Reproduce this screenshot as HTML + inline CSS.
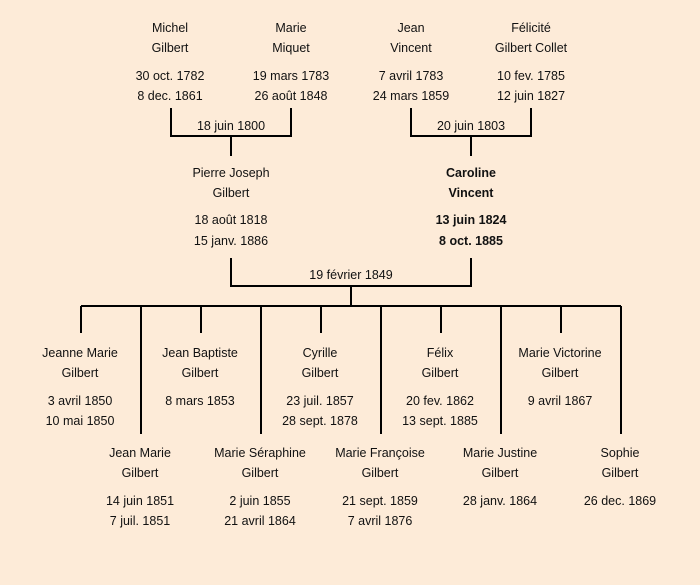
<!DOCTYPE html>
<html><head><meta charset="utf-8"><style>
html,body{margin:0;padding:0;background:#fdebd8;}
svg{display:block}
text{font-family:"Liberation Sans",sans-serif;font-size:12.5px;fill:#111;text-anchor:middle}
.b{font-weight:bold}
</style></head><body>
<svg width="700" height="585" viewBox="0 0 700 585">
<rect width="700" height="585" fill="#fdebd8"/>
<g stroke="#000" stroke-width="2" fill="none">
<path d="M171 108V136H291V108M231 136V156"/>
<path d="M411 108V136H531V108M471 136V156"/>
<path d="M231 258V286H471V258M351 286V306"/>
<path d="M81 306H621"/>
<path d="M81 306V333M201 306V333M321 306V333M441 306V333M561 306V333"/>
<path d="M141 306V434M261 306V434M381 306V434M501 306V434M621 306V434"/>
</g>
<g>
<text x="170" y="32">Michel</text><text x="170" y="52">Gilbert</text><text x="170" y="80">30 oct. 1782</text><text x="170" y="100">8 dec. 1861</text>
<text x="291" y="32">Marie</text><text x="291" y="52">Miquet</text><text x="291" y="80">19 mars 1783</text><text x="291" y="100">26 août 1848</text>
<text x="411" y="32">Jean</text><text x="411" y="52">Vincent</text><text x="411" y="80">7 avril 1783</text><text x="411" y="100">24 mars 1859</text>
<text x="531" y="32">Félicité</text><text x="531" y="52">Gilbert Collet</text><text x="531" y="80">10 fev. 1785</text><text x="531" y="100">12 juin 1827</text>
<text x="231" y="130">18 juin 1800</text><text x="471" y="130">20 juin 1803</text>
<text x="231" y="177">Pierre Joseph</text><text x="231" y="197">Gilbert</text><text x="231" y="224">18 août 1818</text><text x="231" y="245">15 janv. 1886</text>
<text class="b" x="471" y="177">Caroline</text><text class="b" x="471" y="197">Vincent</text><text class="b" x="471" y="224">13 juin 1824</text><text class="b" x="471" y="245">8 oct. 1885</text>
<text x="351" y="279">19 février 1849</text>

<text x="80" y="357">Jeanne Marie</text><text x="80" y="377">Gilbert</text><text x="80" y="405">3 avril 1850</text><text x="80" y="425">10 mai 1850</text>
<text x="200" y="357">Jean Baptiste</text><text x="200" y="377">Gilbert</text><text x="200" y="405">8 mars 1853</text>
<text x="320" y="357">Cyrille</text><text x="320" y="377">Gilbert</text><text x="320" y="405">23 juil. 1857</text><text x="320" y="425">28 sept. 1878</text>
<text x="440" y="357">Félix</text><text x="440" y="377">Gilbert</text><text x="440" y="405">20 fev. 1862</text><text x="440" y="425">13 sept. 1885</text>
<text x="560" y="357">Marie Victorine</text><text x="560" y="377">Gilbert</text><text x="560" y="405">9 avril 1867</text>

<text x="140" y="457">Jean Marie</text><text x="140" y="477">Gilbert</text><text x="140" y="505">14 juin 1851</text><text x="140" y="525">7 juil. 1851</text>
<text x="260" y="457">Marie Séraphine</text><text x="260" y="477">Gilbert</text><text x="260" y="505">2 juin 1855</text><text x="260" y="525">21 avril 1864</text>
<text x="380" y="457">Marie Françoise</text><text x="380" y="477">Gilbert</text><text x="380" y="505">21 sept. 1859</text><text x="380" y="525">7 avril 1876</text>
<text x="500" y="457">Marie Justine</text><text x="500" y="477">Gilbert</text><text x="500" y="505">28 janv. 1864</text>
<text x="620" y="457">Sophie</text><text x="620" y="477">Gilbert</text><text x="620" y="505">26 dec. 1869</text>
</g>
</svg>
</body></html>
